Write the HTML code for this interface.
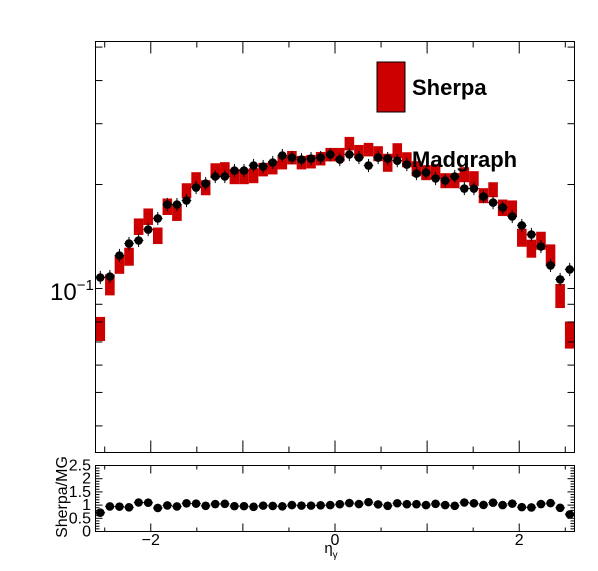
<!DOCTYPE html>
<html><head><meta charset="utf-8">
<style>
html,body{margin:0;padding:0;background:#fff;}
svg{display:block;font-family:"Liberation Sans",Arial,sans-serif;}
</style></head>
<body>
<svg id="c" width="598" height="571" viewBox="0 0 598 571" xmlns="http://www.w3.org/2000/svg">
<rect x="0" y="0" width="598" height="571" fill="#fff"/>
<g id="main"></g>
<g id="ratio"></g>
<g>
  <rect x="377" y="62" width="28" height="50" fill="#cc0000" stroke="#000" stroke-width="1"/>
  <text x="412" y="95" font-size="22" font-weight="bold">Sherpa</text>
  <text x="412" y="167" font-size="22" font-weight="bold">Madgraph</text>
</g>
<text x="50" y="300" font-size="24">10<tspan font-size="15" dy="-10">−1</tspan></text>
<text transform="translate(67,497) rotate(-90)" text-anchor="middle" font-size="16">Sherpa/MG</text>
<text x="331" y="553" font-size="15" text-anchor="middle">η<tspan font-size="10" dy="5">γ</tspan></text>
</svg>
<script>
const binEdges0 = -2.6, binEdges1 = 2.6, nBins = 50;
const madgraph = [0.1076,0.1083,0.1246,0.1349,0.1377,0.1481,0.1595,0.1750,0.1750,0.1798,0.1960,0.2013,0.2110,0.2110,0.2195,0.2195,0.2270,0.2255,0.2316,0.2427,0.2394,0.2362,0.2378,0.2394,0.2443,0.2362,0.2443,0.2394,0.2270,0.2394,0.2378,0.2345,0.2285,0.2152,0.2167,0.2082,0.2054,0.2110,0.1947,0.1947,0.1846,0.1773,0.1715,0.1616,0.1522,0.1433,0.1323,0.1166,0.1062,0.1135];
const sherpa = [0.0766,0.1027,0.1173,0.1238,0.1512,0.1616,0.1423,0.1727,0.1660,0.1921,0.2068,0.1960,0.2195,0.2211,0.2110,0.2110,0.2124,0.2211,0.2240,0.2316,0.2394,0.2316,0.2331,0.2378,0.2443,0.2443,0.2629,0.2492,0.2526,0.2459,0.2316,0.2509,0.2362,0.2225,0.2167,0.2181,0.2054,0.2054,0.2138,0.2082,0.1859,0.1934,0.1715,0.1705,0.1405,0.1306,0.1377,0.1254,0.0954,0.0736];
const sherpaRelErr = [0.08,0.07,0.06,0.06,0.055,0.055,0.055,0.055,0.055,0.05,0.05,0.05,0.05,0.05,0.05,0.05,0.05,0.045,0.045,0.045,0.045,0.045,0.045,0.045,0.045,0.045,0.045,0.045,0.045,0.05,0.06,0.05,0.05,0.05,0.05,0.05,0.05,0.05,0.05,0.05,0.05,0.05,0.055,0.055,0.06,0.06,0.06,0.07,0.08,0.09];
const xTicks = [-2, 0, 2];
const xTickLabels = ["−2", "0", "2"];
const ratioTicks = [0, 0.5, 1, 1.5, 2, 2.5];
const ratioTickLabels = ["0", "0.5", "1", "1.5", "2", "2.5"];

const NS = "http://www.w3.org/2000/svg";
const L = 95.5, R = 574.5, T = 41.5, B = 452.5, RT = 465.5, RB = 531.5;
const yMin = 0.0335, yMax = 0.519;
function X(v){ return L + (v - binEdges0) / (binEdges1 - binEdges0) * (R - L); }
function Y(v){ return B - (Math.log10(v) - Math.log10(yMin)) / (Math.log10(yMax) - Math.log10(yMin)) * (B - T); }
function YR(v){ return RB - v / 2.5 * (RB - RT); }
function mk(tag, attrs, parent){ const e = document.createElementNS(NS, tag); for (const k in attrs) e.setAttribute(k, attrs[k]); parent.appendChild(e); return e; }
const main = document.getElementById('main');
const ratio = document.getElementById('ratio');
const bw = (binEdges1 - binEdges0) / nBins;

for (let i = 0; i < nBins; i++){
  const lo = binEdges0 + i*bw, hi = lo + bw, v = sherpa[i], e = v*sherpaRelErr[i];
  const r = mk('rect', {x: X(lo), y: Y(v+e), width: X(hi)-X(lo), height: Y(v-e)-Y(v+e), fill: '#cc0000'}, main);
  
  
}
for (let i = 0; i < nBins; i++){
  const c = binEdges0 + (i+0.5)*bw, v = madgraph[i], cx = X(c), cy = Y(v);
  const g = mk('g', {}, main);
  
  
  mk('line', {x1: X(c-bw/2), x2: X(c+bw/2), y1: cy, y2: cy, stroke: '#000', 'stroke-width': 1}, g);
  mk('line', {x1: cx, x2: cx, y1: Y(v*1.045), y2: Y(v/1.045), stroke: '#000', 'stroke-width': 1}, g);
  mk('circle', {cx: cx, cy: cy, r: 4.3, fill: '#000'}, g);
}
const f = mk('rect', {x: L, y: T, width: R-L, height: B-T, fill: 'none', stroke: '#000', 'stroke-width': 1}, main);


[0.04,0.05,0.06,0.07,0.08,0.09,0.1,0.2,0.3,0.4,0.5].forEach(v => {
  const y = Y(v);
  mk('line', {x1: L, x2: L+7, y1: y, y2: y, stroke: '#000'}, main);
  mk('line', {x1: R, x2: R-7, y1: y, y2: y, stroke: '#000'}, main);
});
for (let k = -5; k <= 5; k++){
  const v = k*0.5, x = X(v), big = (k % 2 === 0), len = big ? 12 : 6;
  mk('line', {x1: x, x2: x, y1: B, y2: B-len, stroke: '#000'}, main);
  mk('line', {x1: x, x2: x, y1: T, y2: T+len, stroke: '#000'}, main);
  mk('line', {x1: x, x2: x, y1: RB, y2: RB-(big?8:4), stroke: '#000'}, ratio);
  mk('line', {x1: x, x2: x, y1: RT, y2: RT+(big?8:4), stroke: '#000'}, ratio);
}
xTicks.forEach((v, i) => {
  const t = mk('text', {x: X(v), y: 545, 'font-size': 16, 'text-anchor': 'middle'}, ratio);
  t.textContent = xTickLabels[i];
  
  
});
const rf = mk('rect', {x: L, y: RT, width: R-L, height: RB-RT, fill: 'none', stroke: '#000', 'stroke-width': 1}, ratio);


for (let k = 0; k <= 25; k++){
  const y = YR(k*0.1), len = (k % 5 === 0) ? 7 : 4;
  mk('line', {x1: L, x2: L+len, y1: y, y2: y, stroke: '#000'}, ratio);
  mk('line', {x1: R, x2: R-len, y1: y, y2: y, stroke: '#000'}, ratio);
}
ratioTicks.forEach((v, i) => {
  const t = mk('text', {x: 91, y: YR(v)+5, 'font-size': 16, 'text-anchor': 'end'}, ratio);
  t.textContent = ratioTickLabels[i];
  
  
});
for (let i = 0; i < nBins; i++){
  const c = binEdges0 + (i+0.5)*bw, v = sherpa[i]/madgraph[i], cy = YR(v);
  const g = mk('g', {}, ratio);
  
  
  mk('line', {x1: X(c-bw/2), x2: X(c+bw/2), y1: cy, y2: cy, stroke: '#000', 'stroke-width': 1}, g);
  mk('circle', {cx: X(c), cy: cy, r: 4.3, fill: '#000'}, g);
}
</script>
</body></html>
